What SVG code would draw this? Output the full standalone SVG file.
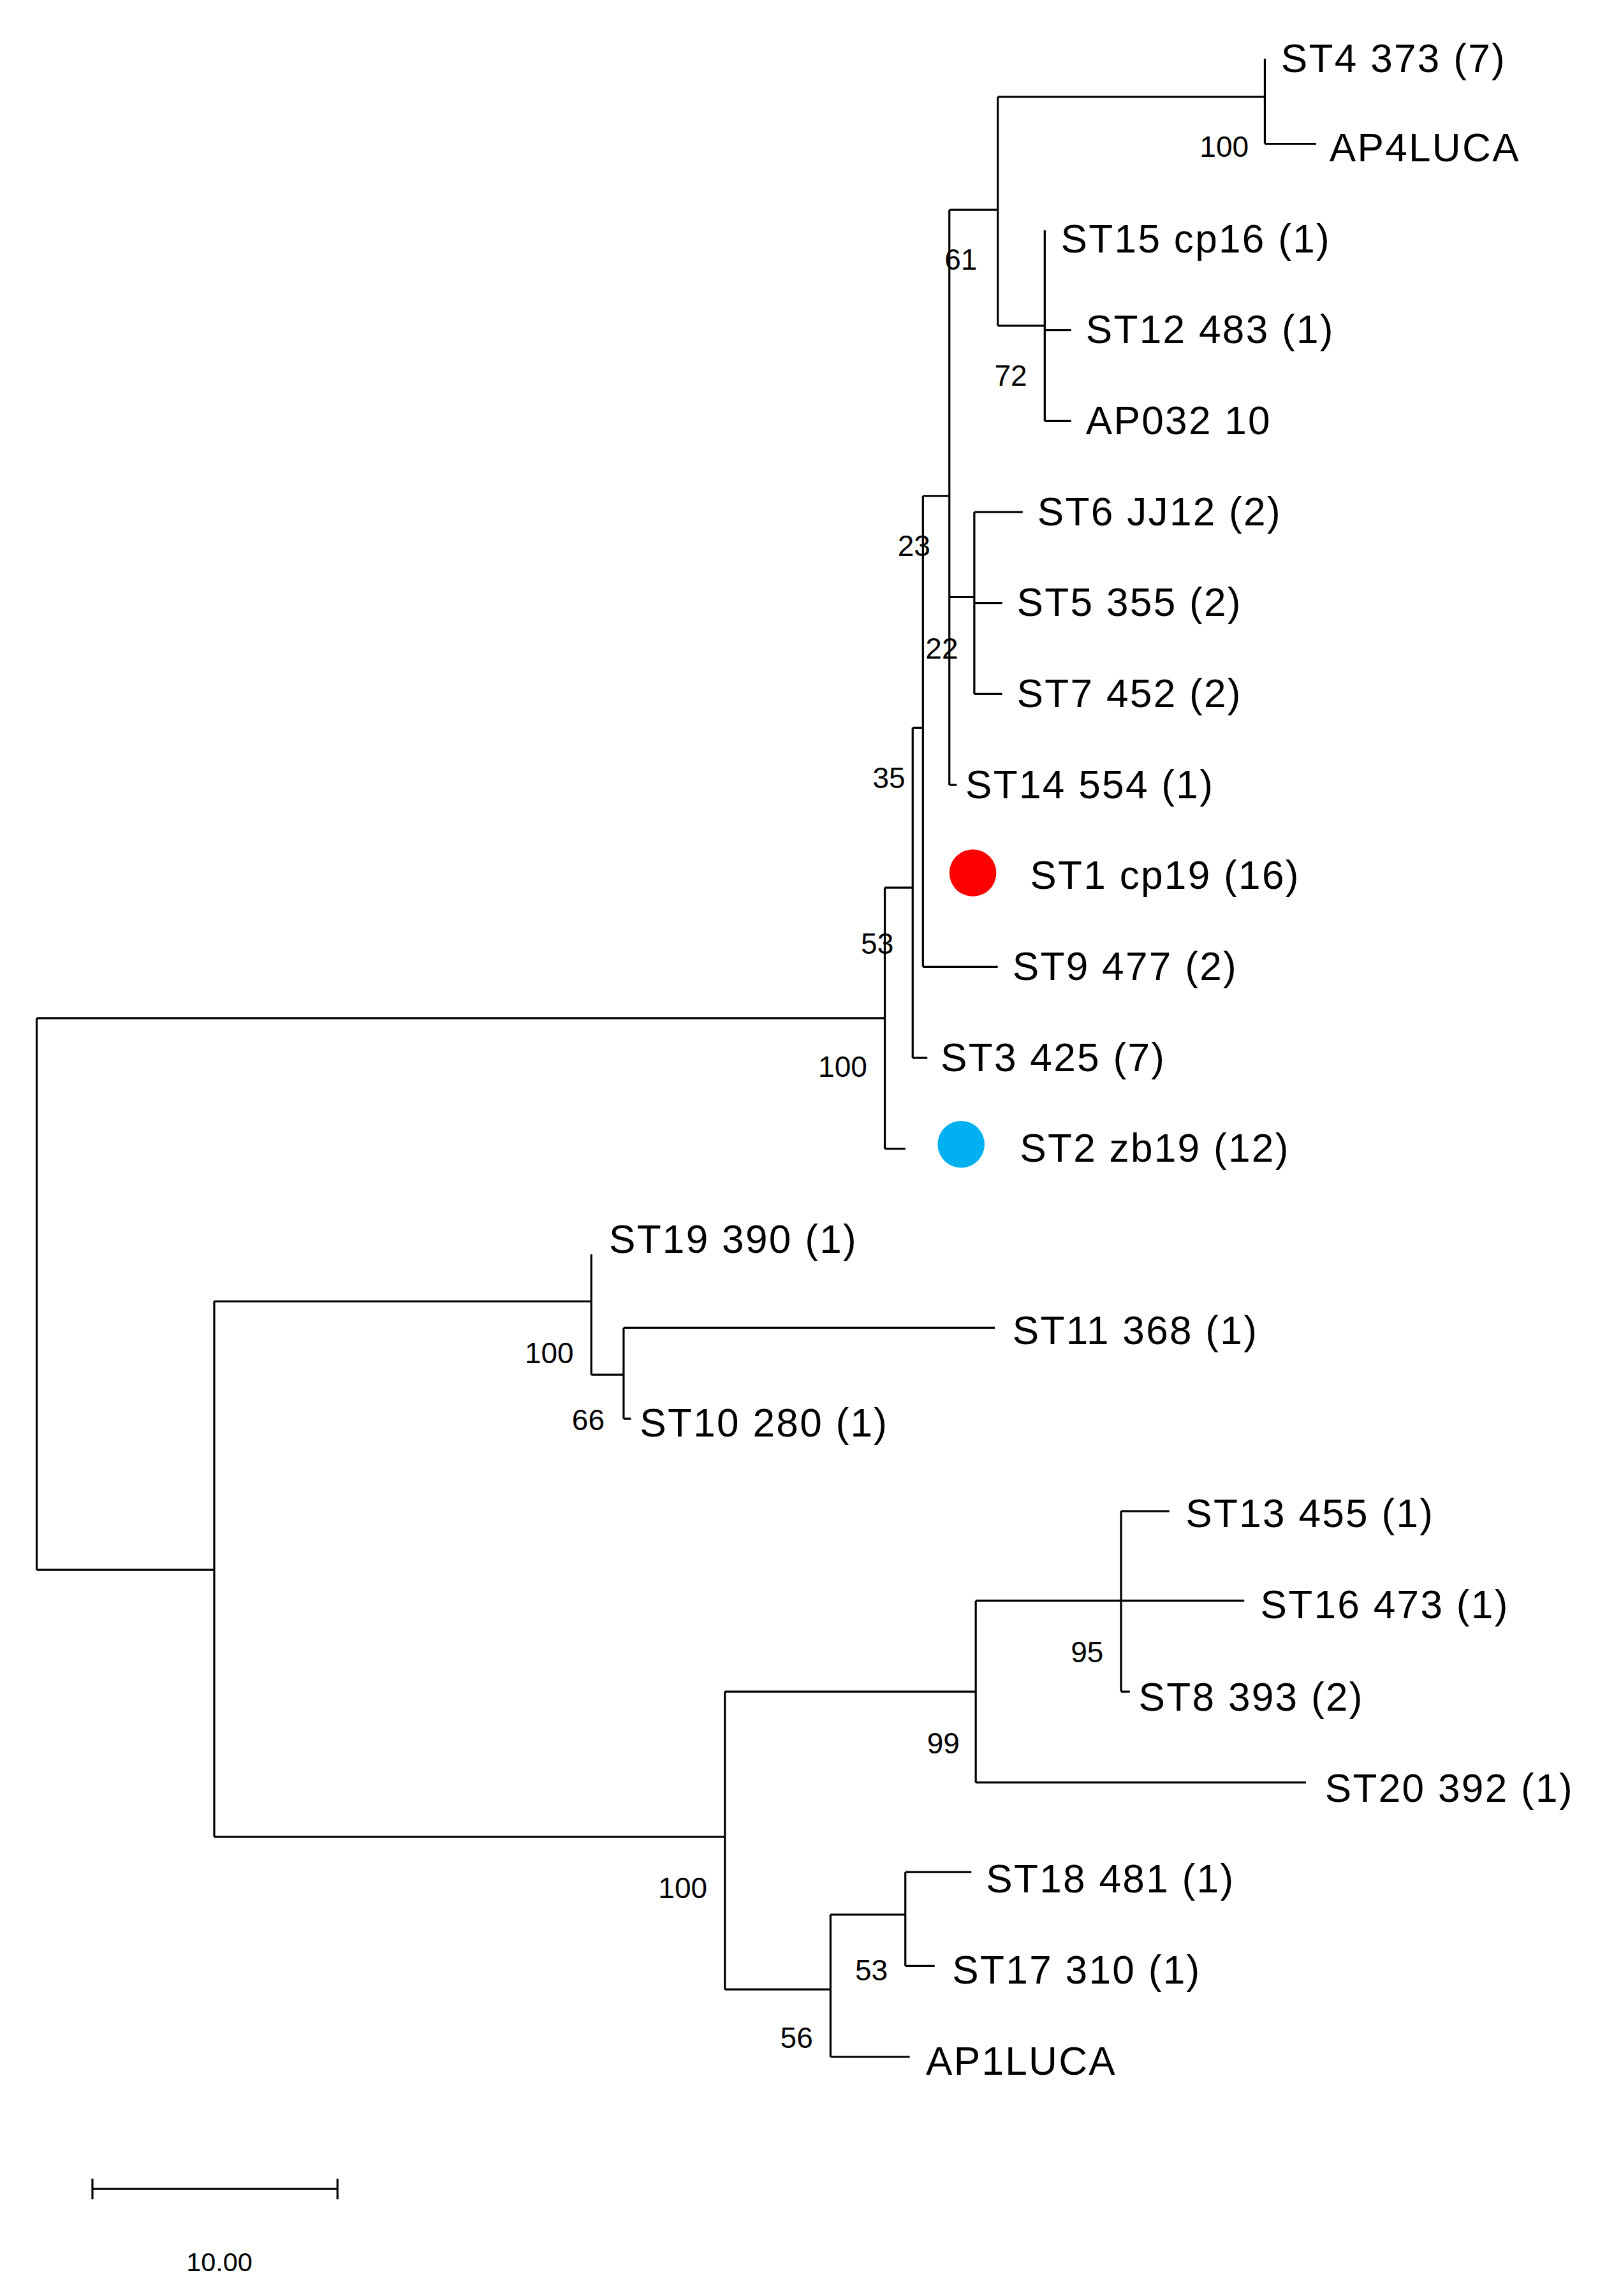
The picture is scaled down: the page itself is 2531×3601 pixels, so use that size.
<svg xmlns="http://www.w3.org/2000/svg" width="2531" height="3601" viewBox="0 0 2531 3601">
<style>
.e{fill:none;stroke:#000;stroke-width:1.4}
.l{font-family:"Liberation Sans",Arial,sans-serif;font-size:27px;fill:#000;letter-spacing:1px}
.b{font-family:"Liberation Sans",Arial,sans-serif;font-size:20px;fill:#000;text-anchor:end}
</style>
<rect width="2531" height="3601" fill="#fff"/>
<g transform="scale(2.301)">
<g id="edges">
<path class="e" d="M25,694V1070M25,694H603M603,605V783M603,783H617M603,605H622M622,496V721M622,721H632M622,496H629M629,338V659M629,659H680M629,338H647M647,143V535M647,535H652M647,407H664M664,349V473M664,349H697M664,411H683M664,473H683M647,143H680M680,66V222M680,66H862M862,40V98M862,98H897M680,222H712M712,157V287M712,225H730M712,287H730"/>
<path class="e" d="M25,1070H146M146,887V1252M146,887H403M403,855V937M403,937H425M425,905V967M425,905H678M425,967H430M146,1252H494M494,1153V1356M494,1153H665M665,1091V1215M665,1091H848M764,1030V1153M764,1030H797M764,1153H770M665,1215H890M494,1356H566M566,1305V1402M566,1402H620M566,1305H617M617,1276V1340M617,1276H662M617,1340H637"/>
<path class="e" d="M63,1492H230M63,1485V1499M230,1485V1499"/>
</g>
<g id="dots"><circle cx="663" cy="595" r="16" fill="#ff0000"/><circle cx="655" cy="780" r="16" fill="#00b0f0"/></g>
<g id="leaves">
<text class="l" x="873" y="49">ST4 373 (7)</text>
<text class="l" x="906" y="110">AP4LUCA</text>
<text class="l" x="723" y="172">ST15 cp16 (1)</text>
<text class="l" x="740" y="234">ST12 483 (1)</text>
<text class="l" x="740" y="296">AP032 10</text>
<text class="l" x="707" y="358">ST6 JJ12 (2)</text>
<text class="l" x="693" y="420">ST5 355 (2)</text>
<text class="l" x="693" y="482">ST7 452 (2)</text>
<text class="l" x="658" y="544">ST14 554 (1)</text>
<text class="l" x="702" y="606">ST1 cp19 (16)</text>
<text class="l" x="690" y="668">ST9 477 (2)</text>
<text class="l" x="641" y="730">ST3 425 (7)</text>
<text class="l" x="695" y="792">ST2 zb19 (12)</text>
<text class="l" x="415" y="854">ST19 390 (1)</text>
<text class="l" x="690" y="916">ST11 368 (1)</text>
<text class="l" x="436" y="979">ST10 280 (1)</text>
<text class="l" x="808" y="1041">ST13 455 (1)</text>
<text class="l" x="859" y="1103">ST16 473 (1)</text>
<text class="l" x="776" y="1166">ST8 393 (2)</text>
<text class="l" x="903" y="1228">ST20 392 (1)</text>
<text class="l" x="672" y="1290">ST18 481 (1)</text>
<text class="l" x="649" y="1352">ST17 310 (1)</text>
<text class="l" x="631" y="1414">AP1LUCA</text>
</g>
<g id="boot">
<text class="b" x="851" y="107">100</text>
<text class="b" x="666" y="184">61</text>
<text class="b" x="700" y="263">72</text>
<text class="b" x="634" y="379">23</text>
<text class="b" x="653" y="449">22</text>
<text class="b" x="617" y="537">35</text>
<text class="b" x="609" y="650">53</text>
<text class="b" x="591" y="734">100</text>
<text class="b" x="391" y="929">100</text>
<text class="b" x="412" y="975">66</text>
<text class="b" x="752" y="1133">95</text>
<text class="b" x="654" y="1195">99</text>
<text class="b" x="482" y="1294">100</text>
<text class="b" x="605" y="1350">53</text>
<text class="b" x="554" y="1396">56</text>
<text class="b" x="172" y="1548" style="font-size:18px">10.00</text>
</g>
</g>
</svg>
